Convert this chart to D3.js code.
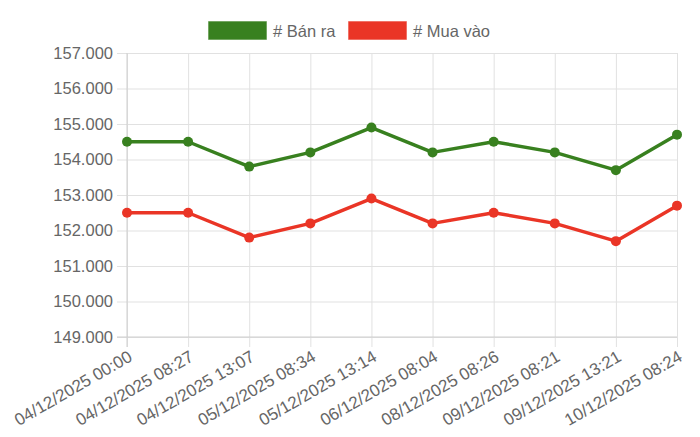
<!DOCTYPE html>
<html>
<head>
<meta charset="utf-8">
<script src="https://cdn.jsdelivr.net/npm/d3@7"></script>
<style>
  body { margin: 0; background: #fff; }
  text { font-family: "Liberation Sans", Arial, sans-serif; }
</style>
</head>
<body>
<div id="chart-area"></div>
<script>
var labels = ["04/12/2025 00:00", "04/12/2025 08:27", "04/12/2025 13:07", "05/12/2025 08:34",
    "05/12/2025 13:14", "06/12/2025 08:04", "08/12/2025 08:26", "09/12/2025 08:21",
    "09/12/2025 13:21", "10/12/2025 08:24"];
var banRa = [154500, 154500, 153800, 154200, 154900, 154200, 154500, 154200, 153700, 154700];
var muaVao = [152500, 152500, 151800, 152200, 152900, 152200, 152500, 152200, 151700, 152700];
var yTicks = [149000, 150000, 151000, 152000, 153000, 154000, 155000, 156000, 157000];

var seriesNames = ["# Bán ra", "# Mua vào"];
var colors = ["#38801f", "#ea3526"];

var width = 700, height = 437;
var margin = {top: 53, right: 22, bottom: 100, left: 127};
var innerW = width - margin.left - margin.right;
var innerH = 337 - margin.top;

var svg = d3.select("#chart-area")
    .append("svg")
    .attr("width", width)
    .attr("height", height);

var g = svg.append("g")
    .attr("transform", "translate(" + margin.left + "," + margin.top + ")");

var x = d3.scalePoint().domain(labels).range([0, innerW - 1]);
var y = d3.scaleLinear().domain([149000, 157000]).range([innerH, 0]);

var fmt = function(d) { return d3.format(",")(d).replace(/,/g, "."); };

// grid + y axis
var yAxis = g.append("g")
    .call(d3.axisLeft(y).tickValues(yTicks).tickSize(-innerW).tickPadding(14).tickFormat(fmt));
yAxis.select(".domain").remove();
yAxis.selectAll(".tick line")
    .attr("x1", -10)
    .attr("stroke", "#e1e1e1");
yAxis.selectAll("text")
    .attr("font-size", "16.5px")
    .attr("fill", "#666");

// x axis
var xAxis = g.append("g")
    .attr("transform", "translate(0," + innerH + ")")
    .call(d3.axisBottom(x).tickSize(-innerH).tickPadding(0));
xAxis.select(".domain").remove();
xAxis.selectAll(".tick line")
    .attr("y1", 10)
    .attr("stroke", "#e1e1e1");
xAxis.selectAll("text")
    .attr("font-size", "17px")
    .attr("fill", "#666")
    .attr("text-anchor", "end")
    .attr("dy", 0)
    .attr("transform", "translate(6,23) rotate(-30)");

// base axis lines slightly darker
g.append("line")
    .attr("x1", 0).attr("x2", 0)
    .attr("y1", 0).attr("y2", innerH + 10)
    .attr("stroke", "#cfcfcf");
g.append("line")
    .attr("x1", -10).attr("x2", innerW - 1)
    .attr("y1", innerH).attr("y2", innerH)
    .attr("stroke", "#cfcfcf");

var allSeries = [banRa, muaVao];
var line = d3.line()
    .x(function(d, i) { return x(labels[i]); })
    .y(function(d) { return y(d); });

allSeries.forEach(function(vals, k) {
    g.append("path")
        .datum(vals)
        .attr("fill", "none")
        .attr("stroke", colors[k])
        .attr("stroke-width", 3.5)
        .attr("stroke-linejoin", "round")
        .attr("d", line);
    g.selectAll(".pt" + k)
        .data(vals)
        .enter().append("circle")
        .attr("class", "pt" + k)
        .attr("cx", function(d, i) { return x(labels[i]); })
        .attr("cy", function(d) { return y(d); })
        .attr("r", 5)
        .attr("fill", colors[k]);
});

// legend
var legendPos = [208, 348];
seriesNames.forEach(function(name, k) {
    var lg = svg.append("g").attr("transform", "translate(" + legendPos[k] + ",21)");
    lg.append("rect")
        .attr("width", 59).attr("height", 19)
        .attr("fill", colors[k])
        .attr("stroke", "rgba(255,255,255,0.6)");
    lg.append("text")
        .attr("x", 65).attr("y", 16)
        .attr("font-size", "16.5px")
        .attr("fill", "#666")
        .text(name);
});
</script>
</body>
</html>
